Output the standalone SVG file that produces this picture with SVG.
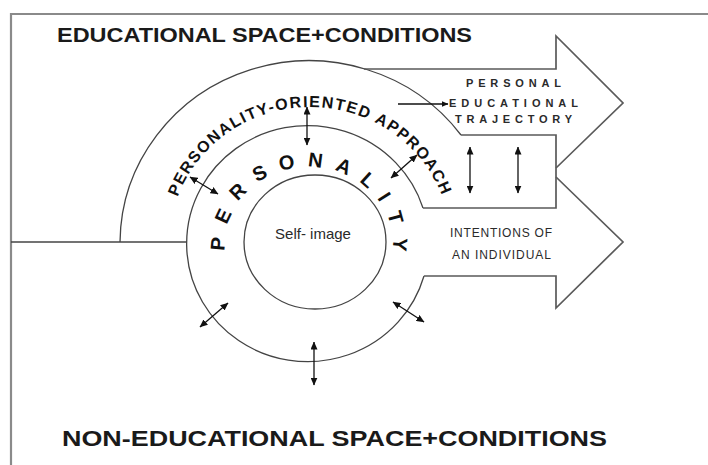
<svg xmlns="http://www.w3.org/2000/svg" width="708" height="465" viewBox="0 0 708 465">
  <defs>
    <marker id="ah" viewBox="0 0 8 7" refX="7.5" refY="3.5" markerWidth="8" markerHeight="7" markerUnits="userSpaceOnUse" orient="auto-start-reverse">
      <path d="M0,0 L8,3.5 L0,7 z" fill="#111"/>
    </marker>
    <marker id="ahs" viewBox="0 0 8 7" refX="7.5" refY="3.5" markerWidth="7" markerHeight="6" markerUnits="userSpaceOnUse" orient="auto">
      <path d="M0,0 L8,3.5 L0,7 z" fill="#111"/>
    </marker>
    <path id="approachPath" d="M169,244 A141,137 0 0 1 451,244"/>
    <path id="personalityPath" d="M230.1,270.3 A84,77 0 1 1 387.9,270.3"/>
  </defs>
  <style>
    .frame { fill: none; stroke: #8a8a8a; stroke-width: 2.2; }
    .line { fill: none; stroke: #444; stroke-width: 1.3; }
    .shape { fill: none; stroke: #5a5a5a; stroke-width: 1.7; stroke-linejoin: miter; }
    .dbl { fill: none; stroke: #111; stroke-width: 1.3; marker-start: url(#ah); marker-end: url(#ah); }
    .title { font-family: "Liberation Sans", Arial, sans-serif; font-weight: bold; fill: #1a1a1a; }
    .ring { font-family: "Liberation Sans", Arial, sans-serif; font-weight: bold; fill: #111; }
    .small { font-family: "Liberation Sans", Arial, sans-serif; fill: #2a2a2a; }
  </style>
  <rect width="708" height="465" fill="#ffffff"/>

  <g id="educational-space">
    <path class="frame" d="M11,465 V14 H708"/>
    <text class="title" x="57" y="42" font-size="21" textLength="415" lengthAdjust="spacingAndGlyphs">EDUCATIONAL SPACE+CONDITIONS</text>
  </g>

  <g id="personality-oriented-approach">
    <path class="line" d="M11,242 H187"/>
    <path class="line" d="M120,242 A189,183 0 0 1 461,135"/>
    <text class="ring" font-size="16" letter-spacing="1.5"><textPath href="#approachPath" startOffset="48">PERSONALITY-ORIENTED APPROACH</textPath></text>
  </g>

  <g id="personality">
    <path class="line" d="M424,276 A121,118 0 1 1 423,208"/>
    <text class="ring" font-size="20" letter-spacing="12.4"><textPath href="#personalityPath" startOffset="20">PERSONALITY</textPath></text>
  </g>

  <g id="self-image">
    <ellipse class="line" cx="315" cy="242" rx="71" ry="67"/>
    <text class="small" x="313" y="239" font-size="15" text-anchor="middle" fill="#444">Self- image</text>
  </g>

  <g id="personal-educational-trajectory">
    <path class="shape" d="M364,69 H556 V36 L623,103 L556,168"/>
    <path class="shape" d="M461,135 H556 V208 H423"/>
    <text class="small" font-weight="bold" font-size="11" x="466" y="87" textLength="95" lengthAdjust="spacing">PERSONAL</text>
    <text class="small" font-weight="bold" font-size="11" x="449" y="107" textLength="129" lengthAdjust="spacing">EDUCATIONAL</text>
    <text class="small" font-weight="bold" font-size="11" x="455" y="123" textLength="117" lengthAdjust="spacing">TRAJECTORY</text>
  </g>

  <g id="intentions-of-an-individual">
    <path class="shape" d="M556,177 L623,242 L556,308 V276 H424"/>
    <text class="small" font-size="12" x="450" y="237" textLength="102" lengthAdjust="spacing">INTENTIONS OF</text>
    <text class="small" font-size="12" x="452" y="259" textLength="99" lengthAdjust="spacing">AN INDIVIDUAL</text>
  </g>

  <g id="non-educational-space">
    <text class="title" x="62" y="446" font-size="22" textLength="545" lengthAdjust="spacingAndGlyphs">NON-EDUCATIONAL SPACE+CONDITIONS</text>
  </g>

  <g id="connectors">
    <line class="dbl" x1="307" y1="107" x2="307" y2="145"/>
    <line class="dbl" x1="190" y1="177" x2="218" y2="194"/>
    <line class="dbl" x1="391" y1="178" x2="417" y2="155"/>
    <line class="dbl" x1="200" y1="327" x2="228" y2="303"/>
    <line class="dbl" x1="314" y1="342" x2="314" y2="385"/>
    <line class="dbl" x1="393" y1="302" x2="424" y2="322"/>
    <line class="dbl" x1="470" y1="147" x2="470" y2="193"/>
    <line class="dbl" x1="518" y1="147" x2="518" y2="193"/>
    <line fill="none" stroke="#111" stroke-width="1.3" marker-end="url(#ahs)" x1="398" y1="104" x2="448" y2="104"/>
  </g>
</svg>
